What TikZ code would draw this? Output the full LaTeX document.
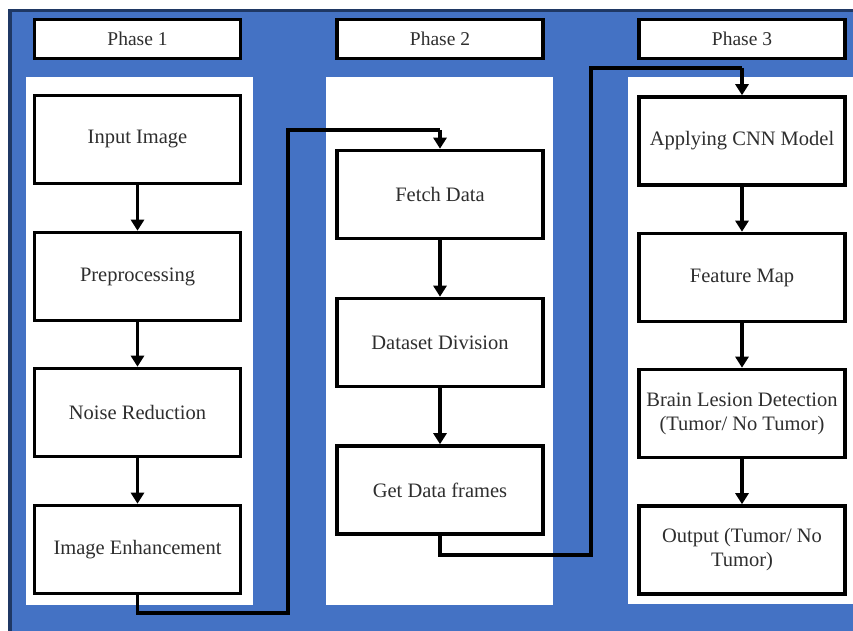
\documentclass[tikz,border=0pt]{standalone}
\usepackage{fontspec}
\setmainfont{Liberation Serif}
\usetikzlibrary{arrows.meta}
\definecolor{bgblue}{HTML}{4472C4}
\definecolor{navy}{HTML}{1F3864}
\definecolor{txt}{HTML}{2E2E2E}
\begin{document}
\begin{tikzpicture}[x=1pt,y=-1pt,
  stepbox/.style={draw=black,line width=3.6pt,fill=white,minimum width=206pt,minimum height=88pt,
    align=center,text=txt,font=\fontsize{20.5}{24}\selectfont,inner sep=2pt},
  headbox/.style={draw=black,line width=3.6pt,fill=white,minimum width=206pt,minimum height=39pt,
    text=txt,font=\fontsize{19.5}{22}\selectfont,inner sep=1pt},
  flow/.style={line width=3.4pt,-{Triangle[width=13pt,length=11pt]}},
  link/.style={line width=3.4pt}]
\useasboundingbox (0,0) rectangle (853,631);
% background
\fill[bgblue] (8,9) rectangle (853,631);
\draw[navy,line width=3.5pt] (10,631) -- (10,10.5) -- (853,10.5);
% panels
\fill[white] (26,77) rectangle (253,605);
\fill[white] (326,77) rectangle (553,605);
\fill[white] (628,77) rectangle (853,604);
% headers
\node[headbox] (h1) at (137.5,39) {Phase 1};
\node[headbox] (h2) at (440,39) {Phase 2};
\node[headbox] (h3) at (742,39) {Phase 3};
% column 1
\node[stepbox] (ii) at (137.5,139.5) {Input Image};
\node[stepbox] (pp) at (137.5,276.5) {Preprocessing};
\node[stepbox] (nr) at (137.5,412.5) {Noise Reduction};
\node[stepbox] (ie) at (137.5,549.5) {Image Enhancement};
% column 2
\node[stepbox] (fd) at (440,194.5) {Fetch Data};
\node[stepbox] (dd) at (440,342.5) {Dataset Division};
\node[stepbox] (gd) at (440,490) {Get Data frames};
% column 3
\node[stepbox] (cnn) at (742,141) {Applying CNN Model};
\node[stepbox] (fm) at (742,277.5) {Feature Map};
\node[stepbox] (bl) at (742,413.5) {Brain Lesion Detection\\(Tumor/ No Tumor)};
\node[stepbox] (out) at (742,550) {Output (Tumor/ No\\Tumor)};
% arrows within columns
\draw[flow] (ii) -- (pp);
\draw[flow] (pp) -- (nr);
\draw[flow] (nr) -- (ie);
\draw[flow] (fd) -- (dd);
\draw[flow] (dd) -- (gd);
\draw[flow] (cnn) -- (fm);
\draw[flow] (fm) -- (bl);
\draw[flow] (bl) -- (out);
% cross-column connectors
\coordinate (a1) at (137.5,613);
\coordinate (a2) at (288,613);
\coordinate (a3) at (288,130);
\coordinate (a4) at (440,130);
\draw[link,line join=miter] (ie.south) -- (a1) -- (a2) -- (a3) -- (a4);
\draw[flow] (a4) -- (fd.north);
\coordinate (b1) at (440,555);
\coordinate (b2) at (591,555);
\coordinate (b3) at (591,68);
\coordinate (b4) at (742,68);
\draw[link,line join=miter] (gd.south) -- (b1) -- (b2) -- (b3) -- (b4);
\draw[flow] (b4) -- (cnn.north);
\end{tikzpicture}
\end{document}
